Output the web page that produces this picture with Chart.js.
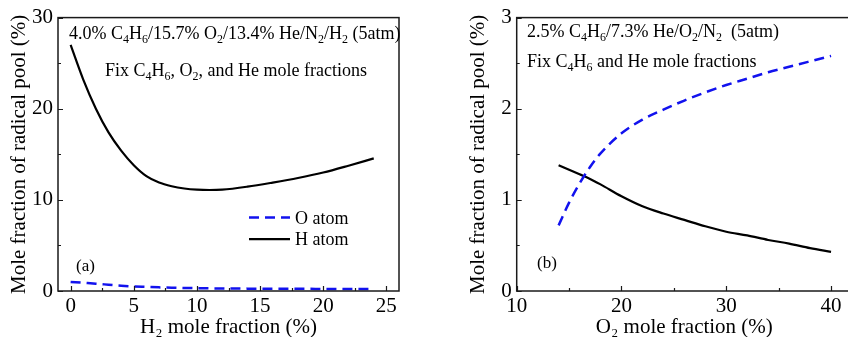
<!DOCTYPE html>
<html>
<head>
<meta charset="utf-8">
<script src="https://cdn.jsdelivr.net/npm/chart.js@4.4.0/dist/chart.umd.min.js"></script>
<style>
  html, body { margin:0; padding:0; background:#fff; }
  .panel { position:absolute; top:0; height:337px; overflow:hidden; }
  #pa { left:0; width:424px; }
  #pb { left:424px; width:424px; }
</style>
</head>
<body>
<div class="panel" id="pa"><canvas id="chartA" width="424" height="337"></canvas></div>
<div class="panel" id="pb"><canvas id="chartB" width="440" height="337"></canvas></div>
<script>
//      Panel (a): H2 mole fraction sweep
const h2Frac   = [0, 1, 2, 3, 4, 5, 6, 7, 8, 9, 10, 11, 12, 14, 16, 18, 20, 22, 24];
const oAtomA   = [1.0, 0.9, 0.8, 0.69, 0.58, 0.5, 0.45, 0.4, 0.36, 0.33, 0.31, 0.29, 0.28, 0.26, 0.25, 0.24, 0.23, 0.22, 0.22];
const hAtomA   = [27.0, 23.2, 20.0, 17.4, 15.4, 13.8, 12.6, 11.9, 11.5, 11.25, 11.12, 11.08, 11.12, 11.45, 11.9, 12.4, 13.0, 13.75, 14.55];
const xTicksA  = [0, 2.5, 5, 7.5, 10, 12.5, 15, 17.5, 20, 22.5, 25];
const xLabelsA = [0, 5, 10, 15, 20, 25];
const yTicksA  = [0, 5, 10, 15, 20, 25, 30];
const yLabelsA = [0, 10, 20, 30];

//      Panel (b): O2 mole fraction sweep
const o2Frac   = [14, 15, 16, 17, 18, 20, 22, 24, 26, 28, 30, 32, 34, 36, 38, 40];
const oAtomB   = [0.72, 0.97, 1.18, 1.36, 1.51, 1.73, 1.88, 1.99, 2.09, 2.18, 2.26, 2.33, 2.40, 2.46, 2.52, 2.58];
const hAtomB   = [1.38, 1.33, 1.28, 1.23, 1.17, 1.04, 0.93, 0.85, 0.78, 0.71, 0.65, 0.61, 0.56, 0.52, 0.47, 0.43];
const xTicksB  = [10, 15, 20, 25, 30, 35, 40];
const xLabelsB = [10, 20, 30, 40];
const yTicksB  = [0, 0.5, 1, 1.5, 2, 2.5, 3];
const yLabelsB = [0, 1, 2, 3];

const seriesNames = ["O atom", "H atom"];

document.addEventListener("DOMContentLoaded", () => {
    const serif = "'Liberation Serif', 'Times New Roman', serif";
    const BLUE = "#1212ee";

//          text with _x subscripts, e.g. "C_4H_6"
    function drawRich(ctx, x, y, text, size) {
        let cx = x;
        for (let i = 0; i < text.length; i++) {
            let ch = text[i];
            if (ch === "_" && i + 1 < text.length) {
                ch = text[++i];
                ctx.font = `${Math.round(size * 0.66)}px ${serif}`;
                ctx.fillText(ch, cx, y + size * 0.24);
            } else {
                ctx.font = `${size}px ${serif}`;
                ctx.fillText(ch, cx, y);
            }
            cx += ctx.measureText(ch).width;
        }
    }

//          frame, inward ticks, notes, legend
    const decor = {
        id: "decor",
        afterDatasetsDraw(chart, args, opts) {
            const {ctx, chartArea: a, scales: {x, y}} = chart;
            ctx.save();
            ctx.strokeStyle = "#1a1a1a";
            ctx.lineWidth = 1.5;
            ctx.strokeRect(a.left, a.top, a.right - a.left, a.bottom - a.top);
            ctx.lineWidth = 1.2;
            ctx.beginPath();
            x.ticks.forEach(t => {
                const px = Math.round(x.getPixelForValue(t.value)) + 0.5;
                const len = t.label ? 5 : 3;
                ctx.moveTo(px, a.bottom); ctx.lineTo(px, a.bottom - len);
            });
            y.ticks.forEach(t => {
                const py = Math.round(y.getPixelForValue(t.value)) + 0.5;
                const len = t.label ? 5 : 3;
                ctx.moveTo(a.left, py); ctx.lineTo(a.left + len, py);
            });
            ctx.stroke();

            ctx.fillStyle = "#000";
            ctx.textBaseline = "alphabetic";
            ctx.textAlign = "left";
            opts.notes.forEach(n => drawRich(ctx, n.x, n.y, n.text, n.size));

            if (opts.legend) {
                const L = opts.legend;
                chart.data.datasets.forEach((ds, i) => {
                    const ly = L.y + i * L.gap;
                    ctx.strokeStyle = ds.borderColor;
                    ctx.lineWidth = ds.borderWidth;
                    ctx.setLineDash(ds.borderDash || []);
                    ctx.beginPath();
                    ctx.moveTo(L.x, ly); ctx.lineTo(L.x + 41, ly);
                    ctx.stroke();
                    ctx.setLineDash([]);
                    ctx.font = `18px ${serif}`;
                    ctx.fillText(ds.label, L.x + 46, ly + 6);
                });
            }
            ctx.restore();
        }
    };

    function pts(xs, ys) {
        return xs.map((v, i) => ({x: v, y: ys[i]}));
    }

    function makeChart(id, cfg) {
        const el = document.getElementById(id);
        return new Chart(el, {
            type: "line",
            data: {
                datasets: [
                    {
                        label: seriesNames[0],
                        data: pts(cfg.xs, cfg.oAtom),
                        borderColor: BLUE,
                        borderWidth: 2.5,
                        borderDash: [10, 6],
                        pointRadius: 0,
                        fill: false,
                        cubicInterpolationMode: "monotone"
                    },
                    {
                        label: seriesNames[1],
                        data: pts(cfg.xs, cfg.hAtom),
                        borderColor: "#000",
                        borderWidth: 2.2,
                        pointRadius: 0,
                        fill: false,
                        cubicInterpolationMode: "monotone"
                    }
                ]
            },
            options: {
                responsive: false,
                animation: false,
                devicePixelRatio: 1,
                layout: {padding: {top: 17, right: cfg.padRight, left: 0, bottom: 0}},
                plugins: {
                    legend: {display: false},
                    tooltip: {enabled: false},
                    decor: {notes: cfg.notes, legend: cfg.legend}
                },
                scales: {
                    x: {
                        type: "linear",
                        min: cfg.xMin, max: cfg.xMax,
                        afterBuildTicks: s => { s.ticks = cfg.xTicks.map(v => ({value: v})); },
                        afterFit: s => { s.height = 46; },
                        grid: {display: false, drawTicks: false, tickLength: 0},
                        border: {display: false},
                        ticks: {
                            autoSkip: false, maxRotation: 0, padding: 3, color: "#000",
                            font: {family: serif, size: 21},
                            callback: v => cfg.xLabels.includes(v) ? String(v) : ""
                        },
                        title: {
                            display: true, text: cfg.xTitle, color: "#000",
                            font: {family: serif, size: 21},
                            padding: {top: 0, bottom: -3}
                        }
                    },
                    y: {
                        type: "linear",
                        min: cfg.yMin, max: cfg.yMax,
                        afterBuildTicks: s => { s.ticks = cfg.yTicks.map(v => ({value: v})); },
                        afterFit: s => { s.width = cfg.left; },
                        grid: {display: false, drawTicks: false, tickLength: 0},
                        border: {display: false},
                        ticks: {
                            autoSkip: false, padding: 5, color: "#000",
                            font: {family: serif, size: 21},
                            callback: v => cfg.yLabels.includes(v) ? String(v) : ""
                        },
                        title: {
                            display: true, text: "Mole fraction of radical pool (%)", color: "#000",
                            font: {family: serif, size: 21},
                            padding: {top: cfg.yTitlePad, bottom: 0}
                        }
                    }
                }
            },
            plugins: [decor]
        });
    }

    makeChart("chartA", {
        xs: h2Frac, oAtom: oAtomA, hAtom: hAtomA,
        xMin: -1, xMax: 26, xTicks: xTicksA, xLabels: xLabelsA,
        yMin: 0, yMax: 30, yTicks: yTicksA, yLabels: yLabelsA,
        xTitle: "H\u2082 mole fraction (%)",
        left: 58, padRight: 25, yTitlePad: 7,
        notes: [
            {x: 69, y: 39, size: 18, text: "4.0% C_4H_6/15.7% O_2/13.4% He/N_2/H_2 (5atm)"},
            {x: 105, y: 76, size: 18, text: "Fix C_4H_6, O_2, and He mole fractions"},
            {x: 76, y: 271, size: 17, text: "(a)"}
        ],
        legend: {x: 249, y: 217.5, gap: 21.7}
    });

    makeChart("chartB", {
        xs: o2Frac, oAtom: oAtomB, hAtom: hAtomB,
        xMin: 10, xMax: 42, xTicks: xTicksB, xLabels: xLabelsB,
        yMin: 0, yMax: 3, yTicks: yTicksB, yLabels: yLabelsB,
        xTitle: "O\u2082 mole fraction (%)",
        left: 92.7, padRight: 12, yTitlePad: 42,
        notes: [
            {x: 103, y: 37, size: 18, text: "2.5% C_4H_6/7.3% He/O_2/N_2  (5atm)"},
            {x: 103, y: 67, size: 18, text: "Fix C_4H_6 and He mole fractions"},
            {x: 113, y: 268, size: 17, text: "(b)"}
        ],
        legend: null
    });
});
</script>
</body>
</html>
